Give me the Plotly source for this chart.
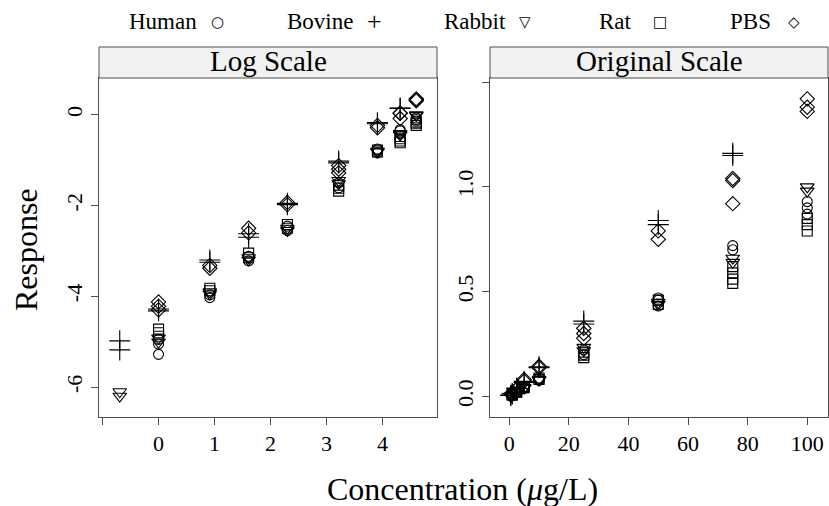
import numpy as np
import plotly.graph_objects as go

# ---------------- data (response on original scale, µg/L concentrations) ----------------
groups = ["Human", "Bovine", "Rabbit", "Rat", "PBS"]
symbols = ["circle-open", "cross-thin-open", "triangle-down-open", "square-open", "diamond-open"]
legend_glyphs = ["○", "+", "▽", "□", "◇"]

human_conc = [1, 1, 1, 2.5, 2.5, 5, 5, 10, 10, 25, 25, 50, 50, 50, 75, 75, 100, 100, 100]
human_resp = [0.0071, 0.0064, 0.0051, 0.0189, 0.0178, 0.0442, 0.0400, 0.086, 0.078,
              0.223, 0.200, 0.470, 0.460, 0.432, 0.720, 0.700, 0.930, 0.900, 0.870]

bovine_conc = [0.5, 0.5, 1, 1, 2.5, 2.5, 5, 5, 10, 10, 25, 25, 50, 50, 75, 75]
bovine_resp = [0.00687, 0.00563, 0.01384, 0.0133, 0.0408, 0.0388, 0.0728, 0.0672,
               0.142, 0.138, 0.360, 0.346, 0.840, 0.820, 1.160, 1.150]

rabbit_conc = [0.5, 0.5, 1, 1, 2.5, 2.5, 5, 5, 10, 10, 25, 25, 50, 50, 75, 75, 100, 100]
rabbit_resp = [0.00224, 0.00203, 0.0073, 0.0067, 0.0202, 0.0193, 0.0429, 0.0408,
               0.082, 0.078, 0.235, 0.219, 0.440, 0.450, 0.660, 0.640, 1.000, 0.980]

rat_conc = [1, 1, 1, 2.5, 2.5, 5, 5, 10, 10, 25, 25, 25, 50, 50, 75, 75, 75, 75, 100, 100, 100]
rat_resp = [0.0089, 0.0082, 0.0076, 0.0219, 0.0207, 0.0474, 0.0429, 0.089, 0.082,
            0.212, 0.198, 0.186, 0.460, 0.440, 0.620, 0.590, 0.560, 0.540, 0.850, 0.820, 0.790]

pbs_conc = [1, 1, 1, 2.5, 2.5, 5, 5, 10, 10, 25, 25, 25, 50, 50, 75, 75, 75, 100, 100, 100]
pbs_resp = [0.0162, 0.0147, 0.0136, 0.0362, 0.0340, 0.082, 0.074, 0.145, 0.138,
            0.326, 0.301, 0.278, 0.790, 0.750, 1.040, 1.030, 0.920, 1.420, 1.380, 1.360]

concs = [human_conc, bovine_conc, rabbit_conc, rat_conc, pbs_conc]
resps = [human_resp, bovine_resp, rabbit_resp, rat_resp, pbs_resp]

log_xticks = [-1, 0, 1, 2, 3, 4]
log_xticklabels = ["", "0", "1", "2", "3", "4"]
log_yticks = [-6, -4, -2, 0]
log_yticklabels = ["-6", "-4", "-2", "0"]
orig_xticks = [0, 20, 40, 60, 80, 100]
orig_yticks = [0.0, 0.5, 1.0, 1.5]
orig_yticklabels = ["0.0", "0.5", "1.0", ""]
panel_titles = ["Log Scale", "Original Scale"]

# ---------------- figure ----------------
W, H = 829, 506
FONT = "Liberation Serif"
GRAY = "#4d4d4d"
marker_sizes = {"circle-open": 10, "cross-thin-open": 15, "triangle-down-open": 12,
                "square-open": 10, "diamond-open": 11}

fig = go.Figure()
for g, sym, c, r in zip(groups, symbols, concs, resps):
    c = np.array(c, dtype=float)
    r = np.array(r, dtype=float)
    mk = dict(symbol=sym, size=marker_sizes[sym],
              color="black", line=dict(color="black", width=1.1))
    fig.add_trace(go.Scatter(x=np.log(c), y=np.log(r), mode="markers", name=g,
                             marker=mk, xaxis="x", yaxis="y", showlegend=False))
    fig.add_trace(go.Scatter(x=c, y=r, mode="markers", name=g,
                             marker=mk, xaxis="x2", yaxis="y2", showlegend=False))

# panel geometry (pixels)
p_top, p_bot = 78, 417
strip_top = 47
L = (99, 437)
R = (490, 828)
yd = [1 - p_bot / H, 1 - p_top / H]


def xr(data_min, data_max):
    ext = 0.07 * (data_max - data_min)
    return [data_min - ext, data_max + ext]


all_c = np.concatenate([np.array(c, float) for c in concs])
all_r = np.concatenate([np.array(r, float) for r in resps])

axis_common = dict(showline=True, mirror=True, linecolor=GRAY, linewidth=1,
                   ticks="outside", ticklen=7, tickcolor=GRAY, tickwidth=1,
                   showgrid=False, zeroline=False,
                   tickfont=dict(family=FONT, size=22, color="black"))

fig.update_layout(
    width=W, height=H,
    margin=dict(l=0, r=0, t=0, b=0),
    paper_bgcolor="white", plot_bgcolor="white",
    xaxis=dict(domain=[L[0] / W, L[1] / W], range=xr(np.log(all_c).min(), np.log(all_c).max()),
               tickvals=log_xticks, ticktext=log_xticklabels, anchor="y", **axis_common),
    yaxis=dict(domain=yd, range=xr(np.log(all_r).min(), np.log(all_r).max()),
               tickvals=log_yticks, ticktext=log_yticklabels, tickangle=-90, anchor="x",
               **axis_common),
    xaxis2=dict(domain=[R[0] / W, R[1] / W], range=xr(all_c.min(), all_c.max()),
                tickvals=orig_xticks, anchor="y2", **axis_common),
    yaxis2=dict(domain=yd, range=xr(all_r.min(), all_r.max()),
                tickvals=orig_yticks, ticktext=orig_yticklabels, tickangle=-90, anchor="x2",
                **axis_common),
)

shapes = []
annotations = []
for (x0, x1), title in zip([L, R], panel_titles):
    shapes.append(dict(type="rect", xref="paper", yref="paper",
                       x0=x0 / W, x1=x1 / W, y0=1 - p_top / H, y1=1 - strip_top / H,
                       fillcolor="#f2f2f2", line=dict(color=GRAY, width=1)))
    annotations.append(dict(text=title, xref="paper", yref="paper",
                            x=(x0 + x1) / 2 / W, y=1 - (p_top + strip_top) / 2 / H + 0.002,
                            xanchor="center", yanchor="middle", showarrow=False,
                            font=dict(family=FONT, size=29, color="black")))

# axis titles
annotations.append(dict(text="Concentration (<i>μ</i>g/L)", xref="paper", yref="paper",
                        x=463 / W, y=1 - 489 / H, xanchor="center", yanchor="middle",
                        showarrow=False, font=dict(family=FONT, size=32, color="black")))
annotations.append(dict(text="Response", xref="paper", yref="paper",
                        x=26 / W, y=1 - 250 / H, xanchor="center", yanchor="middle",
                        textangle=-90, showarrow=False,
                        font=dict(family=FONT, size=32, color="black")))

# key at the top
key_text_x = [163, 320, 475, 615, 750]
key_sym_x = [217, 374, 525, 660, 794]
for g, gl, tx, sx in zip(groups, legend_glyphs, key_text_x, key_sym_x):
    annotations.append(dict(text=g, xref="paper", yref="paper", x=tx / W, y=1 - 22 / H,
                            xanchor="center", yanchor="middle", showarrow=False,
                            font=dict(family=FONT, size=23, color="black")))
    if gl == "+":
        gfont = dict(family=FONT, size=26, color="black")
    else:
        gfont = dict(family="DejaVu Sans", size=15, color="black")
    annotations.append(dict(text=gl, xref="paper", yref="paper", x=sx / W, y=1 - 22 / H,
                            xanchor="center", yanchor="middle", showarrow=False, font=gfont))

fig.update_layout(shapes=shapes, annotations=annotations)
fig.write_html("out.html")
